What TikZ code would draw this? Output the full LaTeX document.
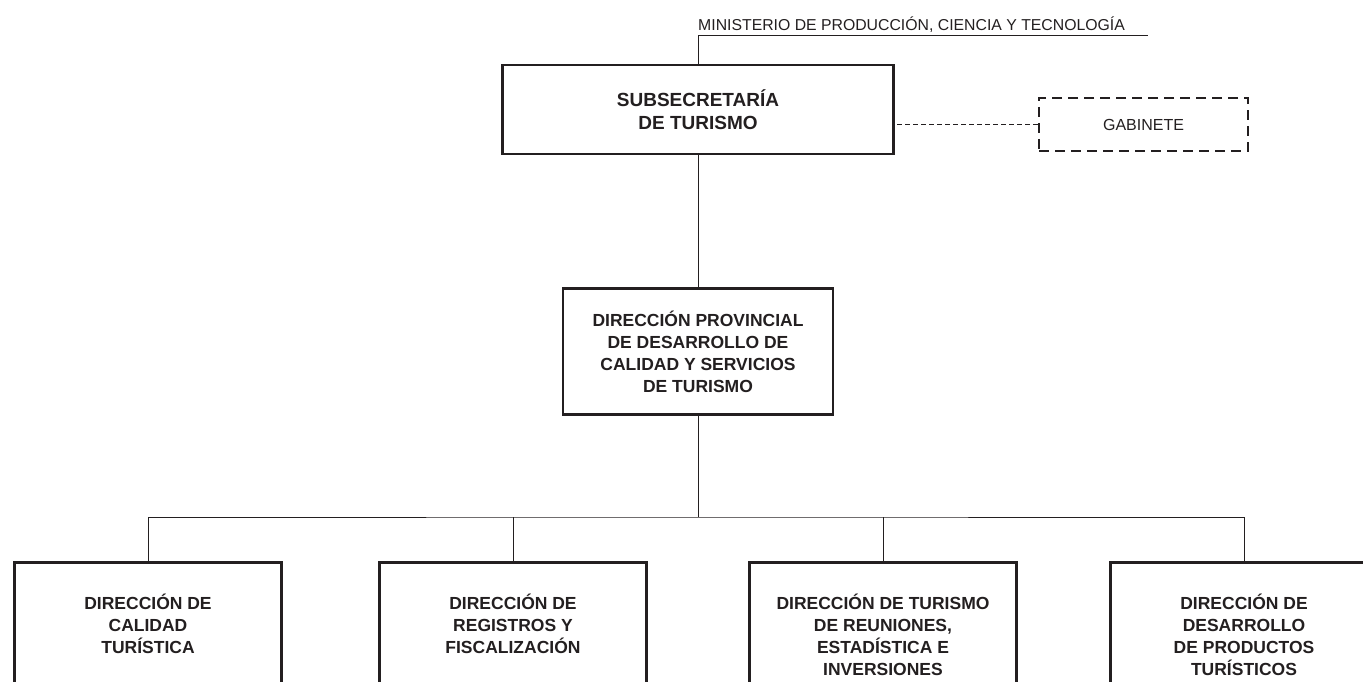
\documentclass[tikz,border=0pt]{standalone}
\usepackage{fontspec}
\setmainfont{Liberation Sans}
\usepackage{tikz}
\usetikzlibrary{positioning}

\definecolor{ink}{RGB}{35,31,32}

\begin{document}
\begin{tikzpicture}[
    x=1pt, y=-1pt, color=ink,
    mainbox/.style={draw=ink, line width=2.6pt, align=center, inner sep=0pt,
        font=\fontsize{17.5}{22}\selectfont\bfseries},
    dirbox/.style={mainbox, anchor=north, minimum width=267pt, minimum height=#1},
    dirbox/.default=124pt,
    gabbox/.style={draw=ink, line width=2.6pt, dash pattern=on 10pt off 6pt,
        minimum width=209pt, minimum height=53pt, font=\fontsize{16}{19}\selectfont},
    link/.style={draw=ink, line width=0.9pt},
    ]

    \useasboundingbox (0,0) rectangle (1363,682);
    \clip (0,0) rectangle (1363,682);

    \node[mainbox, minimum width=391pt, minimum height=89pt,
        font=\fontsize{19}{22.5}\selectfont\bfseries] (sub) at (698,109.5)
        {SUBSECRETARÍA\\DE TURISMO};
    \node[gabbox] (gab) at (1143.5,124.5) {GABINETE};
    \node[mainbox, minimum width=270pt, minimum height=126pt] (dp) [below=132pt of sub]
        {DIRECCIÓN PROVINCIAL\\DE DESARROLLO DE\\CALIDAD Y SERVICIOS\\DE TURISMO};

    \node[anchor=base west, inner sep=0pt, font=\fontsize{15.8}{19}\selectfont] (min) at (698,31)
        {MINISTERIO DE PRODUCCIÓN, CIENCIA Y TECNOLOGÍA};
    \coordinate (minend) at (1148,35);
    \coordinate (bus) at (698,517);

    \node[dirbox] (d1) at (148,561) {DIRECCIÓN DE\\CALIDAD\\TURÍSTICA};
    \node[dirbox] (d2) at (513,561) {DIRECCIÓN DE\\REGISTROS Y\\FISCALIZACIÓN};
    \node[dirbox=145pt] (d3) at (883,561) {DIRECCIÓN DE TURISMO\\DE REUNIONES,\\ESTADÍSTICA E\\INVERSIONES};
    \node[dirbox=145pt] (d4) at (1244,561) {DIRECCIÓN DE\\DESARROLLO\\DE PRODUCTOS\\TURÍSTICOS};

    \draw[link] (sub.north) -- (sub.north |- minend) -- (minend);
    \draw[link, dash pattern=on 5pt off 3pt] (gab.west) -- (gab.west -| sub.east);
    \draw[link] (sub.south) -- (dp.north);
    \draw[link] (dp.south) -- (bus);
    \draw[link] (d1.north) |- (bus) -| (d4.north);
    \draw[link] (d2.north) -- (d2.north |- bus);
    \draw[link] (d3.north) -- (d3.north |- bus);
\end{tikzpicture}
\end{document}
